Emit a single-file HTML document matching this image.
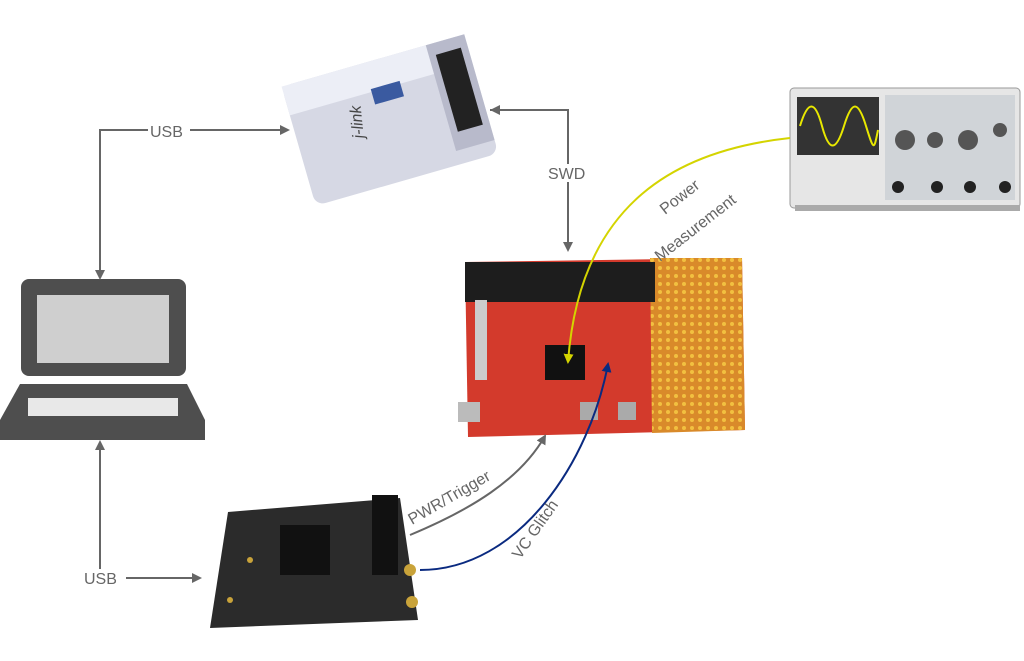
<!DOCTYPE html>
<html><head><meta charset="utf-8"><style>
body{margin:0;background:#fff;}
svg{display:block;font-family:"Liberation Sans",sans-serif;}
</style></head><body>
<svg width="1024" height="661" viewBox="0 0 1024 661">
<defs>
<marker id="a" markerWidth="10" markerHeight="10" refX="8" refY="5" orient="auto" markerUnits="userSpaceOnUse"><path d="M0,0 L10,5 L0,10z" fill="#666"/></marker>
<marker id="b" markerWidth="10" markerHeight="10" refX="8" refY="5" orient="auto" markerUnits="userSpaceOnUse"><path d="M0,0 L10,5 L0,10z" fill="#d4d400"/></marker>
<marker id="c" markerWidth="10" markerHeight="10" refX="8" refY="5" orient="auto" markerUnits="userSpaceOnUse"><path d="M0,0 L10,5 L0,10z" fill="#0a2a80"/></marker>
<pattern id="perf" width="8" height="8" patternUnits="userSpaceOnUse"><rect width="8" height="8" fill="#d98a2a"/><circle cx="4" cy="4" r="2" fill="#f2c040"/></pattern>
</defs>
<!-- laptop -->
<rect x="21" y="279" width="165" height="97" rx="8" fill="#4e4e4e"/>
<rect x="37" y="295" width="132" height="68" fill="#cfcfcf"/>
<path d="M20,384 L187,384 L205,420 L205,440 L0,440 L0,420 Z" fill="#4e4e4e"/>
<rect x="28" y="398" width="150" height="18" fill="#e8e8e8"/>
<!-- jlink -->
<g transform="translate(390,120) rotate(-16)">
<rect x="-95" y="-62" width="190" height="124" rx="10" fill="#d6d8e4"/>
<rect x="-95" y="-62" width="190" height="30" fill="#eceef6"/>
<rect x="55" y="-62" width="40" height="110" fill="#b8bacb"/>
<rect x="62" y="-50" width="26" height="80" fill="#222"/>
<text x="-30" y="10" font-size="16" font-style="italic" fill="#444" transform="rotate(-80 -30 10)">j-link</text>
<rect x="-10" y="-35" width="30" height="16" fill="#3a5aa0"/>
</g>
<!-- scope -->
<rect x="790" y="88" width="230" height="120" rx="4" fill="#e6e6e6" stroke="#999"/>
<rect x="797" y="97" width="82" height="58" fill="#333"/>
<path d="M800,126 C808,100 815,100 822,126 S836,152 844,126 S858,100 866,126 S874,150 878,130" stroke="#e8e800" stroke-width="2" fill="none"/>
<rect x="885" y="95" width="130" height="105" fill="#d0d4d8"/>
<circle cx="905" cy="140" r="10" fill="#555"/><circle cx="935" cy="140" r="8" fill="#555"/><circle cx="968" cy="140" r="10" fill="#555"/><circle cx="1000" cy="130" r="7" fill="#555"/>
<circle cx="898" cy="187" r="6" fill="#222"/><circle cx="937" cy="187" r="6" fill="#222"/><circle cx="970" cy="187" r="6" fill="#222"/><circle cx="1005" cy="187" r="6" fill="#222"/>
<rect x="795" y="205" width="225" height="6" fill="#aaa"/>
<!-- olimex -->
<path d="M465,262 L742,258 L745,430 L468,437 Z" fill="#d33a2c"/>
<path d="M650,258 L742,258 L745,430 L652,433 Z" fill="url(#perf)"/>
<rect x="465" y="262" width="190" height="40" fill="#1d1d1d"/>
<rect x="545" y="345" width="40" height="35" fill="#111"/>
<rect x="580" y="402" width="18" height="18" fill="#aaa"/><rect x="618" y="402" width="18" height="18" fill="#aaa"/>
<rect x="458" y="402" width="22" height="20" fill="#bbb"/>
<rect x="475" y="300" width="12" height="80" fill="#ccc"/>
<!-- bottom board -->
<path d="M228,512 L400,498 L418,620 L210,628 Z" fill="#2b2b2b"/>
<rect x="280" y="525" width="50" height="50" fill="#111"/>
<rect x="372" y="495" width="26" height="80" fill="#111"/>
<circle cx="410" cy="570" r="6" fill="#c9a33a"/><circle cx="412" cy="602" r="6" fill="#c9a33a"/>
<circle cx="250" cy="560" r="3" fill="#c9a33a"/><circle cx="230" cy="600" r="3" fill="#c9a33a"/>
<!-- connectors -->
<g stroke="#666" stroke-width="2" fill="none">
<path d="M100,275 L100,130 L288,130" marker-end="url(#a)"/>
<path d="M100,275 L100,278" marker-end="url(#a)"/>
<path d="M490,110 L568,110 L568,250" marker-end="url(#a)"/>
<path d="M568,110 L492,110" marker-end="url(#a)"/>
<path d="M100,578 L100,442" marker-end="url(#a)"/>
<path d="M100,578 L200,578" marker-end="url(#a)"/>
<path d="M410,535 C470,510 520,480 545,436" marker-end="url(#a)"/>
</g>
<path d="M790,138 C680,150 580,200 568,362" stroke="#d4d400" stroke-width="2" fill="none" marker-end="url(#b)"/>
<path d="M420,570 C520,570 590,460 608,364" stroke="#0a2a80" stroke-width="2" fill="none" marker-end="url(#c)"/>
<g font-size="16" fill="#666">
<rect x="148" y="122" width="42" height="18" fill="#fff"/><text x="150" y="137">USB</text>
<rect x="546" y="164" width="44" height="18" fill="#fff"/><text x="548" y="179">SWD</text>
<rect x="82" y="569" width="44" height="18" fill="#fff"/><text x="84" y="584">USB</text>
<text transform="translate(665,215) rotate(-38)">Power</text>
<text transform="translate(660,262) rotate(-38)">Measurement</text>
<text transform="translate(412,525) rotate(-30)">PWR/Trigger</text>
<text transform="translate(520,560) rotate(-55)">VC Glitch</text>
</g>
</svg>
</body></html>
